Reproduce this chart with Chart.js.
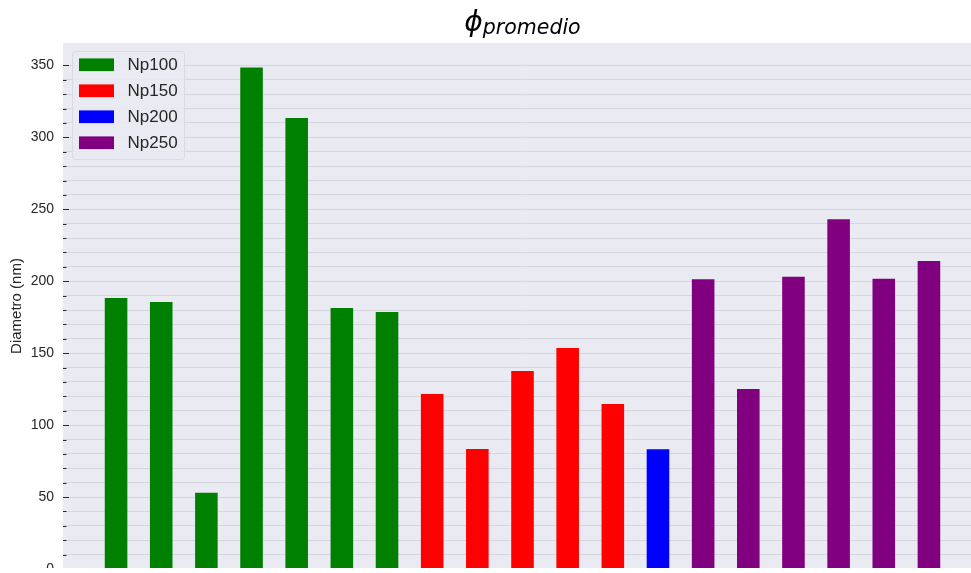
<!DOCTYPE html>
<html>
<head>
<meta charset="utf-8">
<script src="https://cdn.jsdelivr.net/npm/chart.js@4/dist/chart.umd.min.js"></script>
<style>
  html, body { margin: 0; padding: 0; background: #ffffff; }
  #wrap { position: relative; width: 971px; height: 568px; overflow: hidden; background: #ffffff; }
  canvas { display: block; }
</style>
</head>
<body>
<div id="wrap"><canvas id="chart" width="982" height="600"></canvas></div>
<script>
// Mean diameter (nm) per sample, grouped by nanoparticle batch
const seriesNames = ['Np100', 'Np150', 'Np200', 'Np250'];
const np100 = [188.4, 185.6, 53.0, 348.5, 313.5, 181.4, 178.6];
const np150 = [121.6, 83.4, 137.6, 153.6, 114.7];
const np200 = [83.2];
const np250 = [201.4, 125.1, 203.2, 243.1, 201.8, 214.1];
const seriesColors = ['#008000', '#ff0000', '#0000ff', '#800080'];
const yMajorStep = 50;
const yMinorStep = 10;
const yMax = 365.6;

const groups = [np100, np150, np200, np250];

// Bars sit at consecutive integer positions, one group after another
let pos = 0;
const datasets = groups.map((vals, g) => {
  const data = vals.map(v => ({ x: pos++, y: v }));
  return {
    label: seriesNames[g],
    data: data,
    backgroundColor: seriesColors[g],
    borderWidth: 0,
    grouped: false,
    categoryPercentage: 1.0,
    barPercentage: 0.5
  };
});
const nBars = pos;

const INK = '#262626';
const FONT = "'Liberation Sans', Arial, sans-serif";

const plotBackground = {
  id: 'plotBackground',
  beforeDraw(chart) {
    const { ctx, chartArea: a } = chart;
    ctx.save();
    ctx.fillStyle = '#eaeaf2';
    ctx.fillRect(a.left, a.top, a.right - a.left, a.bottom - a.top);
    ctx.restore();
  }
};

// Inward tick marks: long on labelled steps, short on the minor ones
const innerTicks = {
  id: 'innerTicks',
  afterDraw(chart) {
    const { ctx, chartArea: a } = chart;
    const ys = chart.scales.y;
    ctx.save();
    ctx.strokeStyle = INK;
    ctx.lineWidth = 1;
    ys.ticks.forEach(t => {
      const y = Math.round(ys.getPixelForValue(t.value)) + 0.5;
      const len = (t.value % yMajorStep === 0) ? 6 : 3.5;
      ctx.beginPath();
      ctx.moveTo(a.left, y);
      ctx.lineTo(a.left + len, y);
      ctx.stroke();
    });
    ctx.restore();
  }
};

// Legend box in the upper-left corner of the plot
const boxLegend = {
  id: 'boxLegend',
  afterDatasetsDraw(chart) {
    const { ctx } = chart;
    const x0 = 72, y0 = 51, w = 112, h = 108, r = 3;
    ctx.save();
    ctx.beginPath();
    ctx.roundRect(x0 + 0.5, y0 + 0.5, w, h, r);
    ctx.fillStyle = 'rgba(234,234,242,0.85)';
    ctx.fill();
    ctx.strokeStyle = 'rgba(214,214,220,0.8)';
    ctx.lineWidth = 1;
    ctx.stroke();
    ctx.font = '17px ' + FONT;
    ctx.textBaseline = 'middle';
    ctx.textAlign = 'left';
    chart.data.datasets.forEach((ds, i) => {
      const cy = 64.7 + i * 26;
      ctx.fillStyle = ds.backgroundColor;
      ctx.fillRect(79, cy - 6.3, 35, 12.7);
      ctx.fillStyle = INK;
      ctx.fillText(ds.label, 127.5, cy + 1);
    });
    ctx.restore();
  }
};

// Title: phi with the subscript "promedio"
const mathTitle = {
  id: 'mathTitle',
  afterDraw(chart) {
    const { ctx, chartArea: a } = chart;
    const main = 'ϕ', sub = 'promedio';
    ctx.save();
    ctx.fillStyle = '#000000';
    ctx.textBaseline = 'alphabetic';
    ctx.textAlign = 'left';
    ctx.font = "italic 28px 'DejaVu Sans'";
    const wMain = ctx.measureText(main).width;
    ctx.font = "italic 20.5px 'DejaVu Sans'";
    const wSub = ctx.measureText(sub).width;
    const x = (a.left + a.right) / 2 - (wMain + wSub) / 2;
    ctx.font = "italic 28px 'DejaVu Sans'";
    ctx.fillText(main, x, 31);
    ctx.font = "italic 20.5px 'DejaVu Sans'";
    ctx.fillText(sub, x + wMain, 33.5);
    ctx.restore();
  }
};

new Chart(document.getElementById('chart'), {
  type: 'bar',
  data: { datasets: datasets },
  options: {
    responsive: false,
    devicePixelRatio: 1,
    animation: false,
    events: [],
    layout: { padding: { top: 43, left: 0, right: 0, bottom: 31 } },
    plugins: {
      legend: { display: false },
      title: { display: false },
      tooltip: { enabled: false }
    },
    scales: {
      x: {
        type: 'linear',
        display: false,
        offset: false,
        bounds: 'ticks',
        min: -1.175,
        max: (nBars - 1) + 1.175
      },
      y: {
        type: 'linear',
        min: 0,
        max: yMax,
        border: { display: false },
        grid: { color: '#d6d6df', lineWidth: 1, drawTicks: false },
        ticks: {
          stepSize: yMinorStep,
          maxTicksLimit: 100,
          autoSkip: false,
          padding: 9,
          color: INK,
          font: { family: FONT, size: 14 },
          callback: v => (v % yMajorStep === 0 ? String(v) : '')
        },
        afterBuildTicks: scale => {
          scale.ticks = scale.ticks.filter(t => Math.abs(t.value % yMinorStep) < 1e-9);
        },
        afterFit: scale => { scale.width = 63; },
        title: {
          display: true,
          text: 'Diametro (nm)',
          color: INK,
          font: { family: FONT, size: 15 },
          padding: { top: 8, bottom: 0 }
        }
      }
    }
  },
  plugins: [plotBackground, innerTicks, boxLegend, mathTitle]
});
</script>
</body>
</html>
